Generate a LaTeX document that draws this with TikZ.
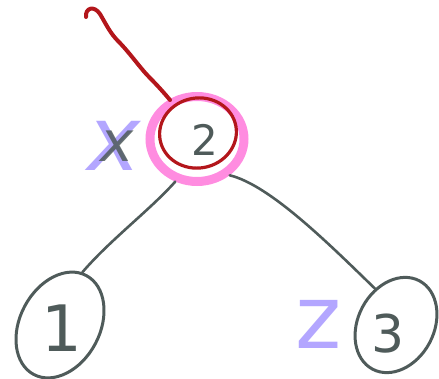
\documentclass[tikz,border=0pt]{standalone}
\usepackage{fontspec}
\setmainfont{DejaVu Sans}
\usetikzlibrary{shapes.geometric}
\definecolor{ink}{HTML}{4F5B5A}
\definecolor{lav}{HTML}{B3A6FF}
\definecolor{pinkhl}{HTML}{FF8CE0}
\definecolor{redink}{HTML}{B3161B}
\tikzset{
  num/.style={text=ink, inner sep=0pt},
  oval/.style={ellipse, draw=ink, line width=3pt, inner sep=0pt},
  edge/.style={draw=ink, line width=2.6pt, line cap=round},
  lbl/.style={text=lav, inner sep=0pt},
}
\begin{document}
\begin{tikzpicture}[x=1pt,y=-1pt]
\useasboundingbox (0,0) rectangle (439,379);
% root with pink highlight
\node[ellipse, draw=pinkhl, line width=9pt, minimum width=94pt, minimum height=85pt, inner sep=0pt] (n2) at (197,139) {};
\node[num, font=\fontsize{42}{42}\selectfont] (t2) at (205,140) {2};
\node[ellipse, draw=redink, line width=3.2pt, minimum width=77pt, minimum height=70pt, rotate=10, inner sep=0pt] (r2) at (198,133) {};
% red pointer stroke
\coordinate (rs) at (86,17);
\coordinate (re) at (170,100);
\draw[redink, line width=4pt, line cap=round] (rs) .. controls (85,8) and (94,5) .. (100,14)
  .. controls (106,24) and (110,33) .. (118,41) .. controls (130,53) and (140,68) .. (150,78)
  .. controls (158,86) and (165,94) .. (re);
% leaves
\node[oval, minimum width=112pt, minimum height=80pt, rotate=62] (n1) at (60,325) {};
\node[num, font=\fontsize{64}{64}\selectfont] (t1) at (62,328) {1};
\node[oval, minimum width=100pt, minimum height=76pt, rotate=62] (n3) at (396,325) {};
\node[num, font=\fontsize{52}{52}\selectfont] (t3) at (388,334) {3};
% edges
\draw[edge] (n2.243) .. controls (150,210) and (110,240) .. (n1.5);
\draw[edge] (n2.312) .. controls (270,185) and (330,245) .. (n3.58);
% labels
\node[lbl, font=\fontsize{90}{90}\selectfont\itshape] (lx) at (114,146) {x};
\node[num, font=\fontsize{56}{56}\selectfont\itshape, opacity=0.85] (lx2) at (117,146) {x};
\node[lbl, font=\fontsize{88}{88}\selectfont] (lz) at (319,324) {z};
\end{tikzpicture}
\end{document}
